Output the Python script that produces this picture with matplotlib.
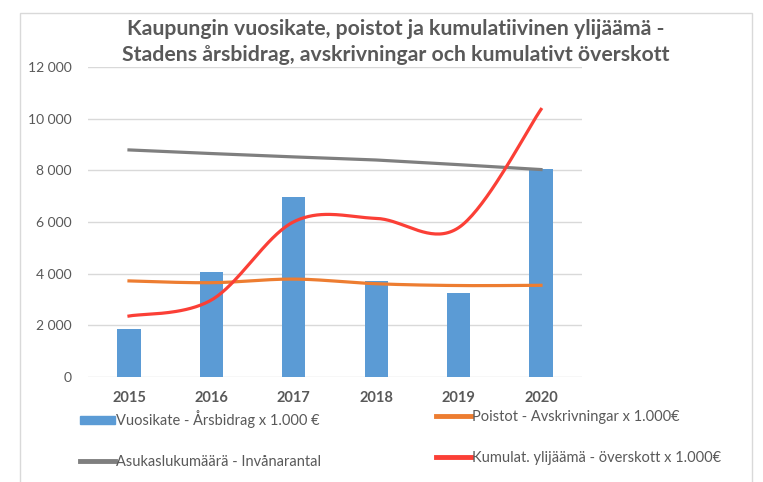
import numpy as np
import matplotlib.pyplot as plt
from matplotlib.patches import Patch, Rectangle
from matplotlib.lines import Line2D

years = ["2015", "2016", "2017", "2018", "2019", "2020"]
vuosikate = [1860, 4080, 6950, 3720, 3240, 8040]
poistot = [3720, 3650, 3790, 3610, 3540, 3550]
asukkaat = [8790, 8650, 8520, 8400, 8220, 8030]
kumulat = [2360, 2980, 6010, 6140, 5780, 10360]

FONT = ["Lato", "DejaVu Sans"]
TXT = "#595959"


def smooth(y, n=40):
    # Excel-tyylinen pehmennys (Bezier, 1/6 kertoimet)
    x = np.arange(len(y), dtype=float)
    y = np.asarray(y, dtype=float)
    xs, ys = [], []
    for i in range(len(y) - 1):
        p0 = max(i - 1, 0)
        p3 = min(i + 2, len(y) - 1)
        c1x = x[i] + (x[i + 1] - x[p0]) / 6
        c1y = y[i] + (y[i + 1] - y[p0]) / 6
        c2x = x[i + 1] - (x[p3] - x[i]) / 6
        c2y = y[i + 1] - (y[p3] - y[i]) / 6
        t = np.linspace(0, 1, n)
        bx = (1-t)**3*x[i] + 3*(1-t)**2*t*c1x + 3*(1-t)*t**2*c2x + t**3*x[i+1]
        by = (1-t)**3*y[i] + 3*(1-t)**2*t*c1y + 3*(1-t)*t**2*c2y + t**3*y[i+1]
        xs.extend(bx)
        ys.extend(by)
    return np.array(xs), np.array(ys)


fig = plt.figure(figsize=(7.63, 4.82), dpi=100)
fig.patches.append(Rectangle((20/763, -0.1), 732/763, (482-13)/482 + 0.1,
                             transform=fig.transFigure, fill=False,
                             edgecolor="#d9d9d9", linewidth=1))

ax = fig.add_axes([87.8/763, 105/482, 494.4/763, 310/482])
x = np.arange(len(years))

ax.bar(x, vuosikate, width=0.28, color="#5b9bd5", zorder=2)
ax.plot(x, asukkaat, color="#7f7f7f", linewidth=2.3, zorder=3)
sx, sy = smooth(poistot)
ax.plot(sx, sy, color="#ed7d31", linewidth=2.3, zorder=3)
sx, sy = smooth(kumulat)
ax.plot(sx, sy, color="#fb3f36", linewidth=2.3, zorder=4)

ax.set_xlim(-0.5, len(years) - 0.5)
ax.set_ylim(0, 12000)
ax.set_yticks(np.arange(0, 12001, 2000))
ax.set_yticklabels([f"{v:,}".replace(",", " ") for v in range(0, 12001, 2000)],
                   family=FONT, fontsize=10, color=TXT)
ax.set_xticks(x)
ax.set_xticklabels(years, family=FONT, fontsize=10.5, fontweight="bold", color=TXT)
ax.tick_params(length=0, pad=10)
ax.tick_params(axis="y", pad=11.4)
ax.grid(axis="y", color="#d9d9d9", linewidth=1, zorder=0)
ax.set_axisbelow(True)
for s in ax.spines.values():
    s.set_visible(False)

fig.text(396/763, 1 - 42/482,
         "Kaupungin vuosikate, poistot ja kumulatiivinen ylijäämä -\n"
         "Stadens årsbidrag, avskrivningar och kumulativt överskott",
         ha="center", va="center", family=FONT, fontsize=15.3,
         fontweight="bold", color=TXT, linespacing=1.4)

h1 = [Patch(color="#5b9bd5"), Line2D([], [], color="#7f7f7f", linewidth=3.5)]
l1 = ["Vuosikate - Årsbidrag x 1.000 €", "Asukaslukumäärä - Invånarantal"]
h2 = [Line2D([], [], color="#ed7d31", linewidth=3.5),
      Line2D([], [], color="#fb3f36", linewidth=3.5)]
l2 = ["Poistot - Avskrivningar x 1.000€", "Kumulat. ylijäämä - överskott x 1.000€"]

kw = dict(frameon=False, loc="upper left", handlelength=2.4, handleheight=0.45,
          handletextpad=0.1, labelspacing=1.85, borderaxespad=0, borderpad=0,
          prop={"family": FONT, "size": 10.5}, labelcolor=TXT)
leg1 = fig.legend(h1, l1, bbox_to_anchor=(80/763, 1 - 410/482), **kw)
leg2 = fig.legend(h2, l2, bbox_to_anchor=(436/763, 1 - 410/482), **kw)

fig.savefig("out.png", dpi=100)
